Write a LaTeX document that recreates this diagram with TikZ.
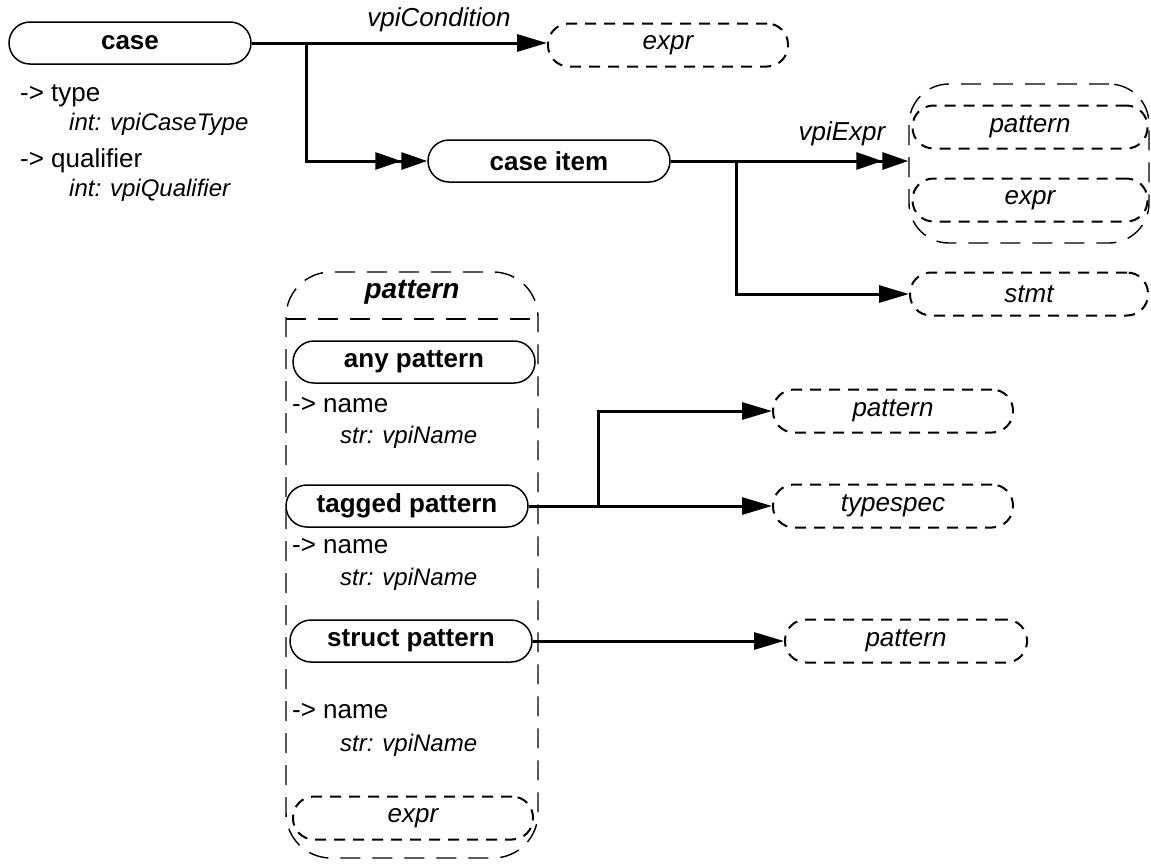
\documentclass[tikz,border=0pt]{standalone}
\usepackage{fontspec}
\setmainfont{Liberation Sans}
\usetikzlibrary{arrows.meta}
\begin{document}
\begin{tikzpicture}[x=1pt,y=-1pt,
  objnode/.style={draw, line width=1.5pt, rounded corners=21pt, minimum width=242pt, minimum height=42pt, inner sep=0pt, font=\fontsize{26}{30}\selectfont\bfseries},
  refnode/.style={draw, line width=2pt, dash pattern=on 11pt off 8pt, rounded corners=21pt, minimum width=240pt, minimum height=43pt, inner sep=0pt, font=\fontsize{26}{30}\selectfont\itshape},
  grpline/.style={line width=1.4pt, dash pattern=on 20pt off 12pt},
  conn/.style={line width=3pt},
  arr/.style={-{Triangle[length=30pt,width=17pt]}},
  dbl/.style={-{Triangle[length=26pt,width=17pt] Triangle[length=26pt,width=17pt]}},
  lbl/.style={inner sep=0pt, font=\fontsize{26}{30}\selectfont\itshape},
  attr/.style={inner sep=0pt, anchor=base west, font=\fontsize{26}{30}\selectfont},
  attrsub/.style={inner sep=0pt, anchor=base west, font=\fontsize{24}{28}\selectfont\itshape}
]
\useasboundingbox (0,0) rectangle (1151,863);

% top part
\node[objnode] (case) at (130,43) {case};
\node[attr] (a1) at (20,101) {-> type};
\node[attrsub] (a2) at (69,130) {int: vpiCaseType};
\node[attr] (a3) at (20,167) {-> qualifier};
\node[attrsub] (a4) at (69,196) {int: vpiQualifier};

\node[refnode] (cexpr) at (668,45) {expr};
\node[objnode] (caseitem) at (549,161) {case item};

\node[draw, grpline, rounded corners=40pt, minimum width=240pt, minimum height=159pt, inner sep=0pt] (exprgrp) at (1029,163.5) {};
\node[refnode, minimum width=235pt] (rpattern) at (1030,127) {pattern};
\node[refnode, minimum width=235pt] (rexpr) at (1030,200) {expr};
\node[refnode, minimum width=238pt] (stmt) at (1029,294) {stmt};

\coordinate (b1) at (306,43);
\draw[conn,arr] (case.east) -- (case.east -| cexpr.west);
\draw[conn,dbl] (b1) |- (caseitem.west);
\node[lbl] (lcond) at (439,20) {vpiCondition};

\coordinate (b2) at (736,161);
\draw[conn,dbl] (caseitem.east) -- (caseitem.east -| exprgrp.west);
\draw[conn,arr] (b2) |- (stmt.west);
\node[lbl] (lexpr) at (842,134) {vpiExpr};

% pattern group
\draw[grpline, rounded corners=45pt] (286,272) rectangle (538,858);
\draw[grpline] (286,319) -- (538,319);
\node[inner sep=0pt, font=\fontsize{28}{32}\selectfont\bfseries\itshape] (ptitle) at (412,292) {pattern};

\node[objnode] (anyp) at (414,362) {any pattern};
\node[attr] (n1) at (292,412) {-> name};
\node[attrsub] (s1) at (340,443) {str: vpiName};

\node[objnode] (tagp) at (407,506) {tagged pattern};
\node[attr] (n2) at (292,553) {-> name};
\node[attrsub] (s2) at (340,585) {str: vpiName};

\node[objnode] (structp) at (411,641) {struct pattern};
\node[attr] (n3) at (292,718) {-> name};
\node[attrsub] (s3) at (340,751) {str: vpiName};

\node[refnode] (pexpr) at (413,818) {expr};

% right side targets
\node[refnode] (pat1) at (893,411) {pattern};
\node[refnode] (tspec) at (893,506) {typespec};
\node[refnode, minimum width=242pt] (pat2) at (906,641) {pattern};

\coordinate (b3) at (598,506);
\draw[conn,arr] (tagp.east) -- (tagp.east -| tspec.west);
\draw[conn,arr] (b3) |- (pat1.west);
\draw[conn,arr] (structp.east) -- (structp.east -| pat2.west);
\end{tikzpicture}
\end{document}
